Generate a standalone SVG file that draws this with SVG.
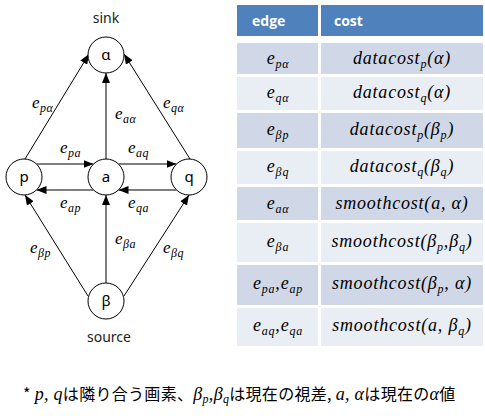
<svg xmlns="http://www.w3.org/2000/svg" width="485" height="416" viewBox="0 0 485 416">
<style>
.nd{fill:#fff;stroke:#000;stroke-width:1}
.nl{font-family:"Noto Sans","DejaVu Sans",sans-serif;font-size:15px;text-anchor:middle;fill:#000}
.cap{font-family:"Noto Sans","DejaVu Sans",sans-serif;font-size:14px;text-anchor:middle;fill:#222}
.m{font-family:"Liberation Serif","DejaVu Serif",serif;font-style:italic;font-size:17px;fill:#000;letter-spacing:0.5px}
.tm{font-family:"Liberation Serif","DejaVu Serif",serif;font-style:italic;font-size:18px;fill:#000;text-anchor:middle;letter-spacing:0.8px}
.s{font-size:12px}
.ed{stroke:#000;stroke-width:1;fill:none;marker-end:url(#ah)}
.hd{fill:#4F81BD}
.dk{fill:#D0D8E8}
.lt{fill:#E9EDF4}
.ht{font-family:"Open Sans","Noto Sans",sans-serif;font-weight:bold;font-size:14px;fill:#fff}
.fn{font-family:"Noto Sans CJK JP",sans-serif;font-size:16px;fill:#000;letter-spacing:0.3px}
.fm{font-family:"Liberation Serif","DejaVu Serif",serif;font-style:italic;font-size:18px}
.fs{font-size:12px}
</style>
<defs>
<marker id="ah" markerUnits="userSpaceOnUse" markerWidth="10" markerHeight="8" refX="10" refY="4" orient="auto">
<path d="M0,0 L10,4 L0,8 z" fill="#000"/>
</marker>
</defs>
<g id="connectors">
<line class="ed" x1="25" y1="159" x2="89" y2="54"/>
<line class="ed" x1="106" y1="159" x2="106" y2="73"/>
<line class="ed" x1="190" y1="159" x2="124" y2="54"/>
<line class="ed" x1="36.5" y1="164" x2="93.5" y2="164"/>
<line class="ed" x1="118.5" y1="164" x2="176.5" y2="164"/>
<line class="ed" x1="176.5" y1="190" x2="118.5" y2="190"/>
<line class="ed" x1="93.5" y1="190" x2="36.5" y2="190"/>
<line class="ed" x1="88" y1="296" x2="25" y2="195"/>
<line class="ed" x1="106" y1="283" x2="106" y2="195"/>
<line class="ed" x1="124" y1="296" x2="189" y2="195"/>
</g>
<g id="edge-labels">
<text class="m" x="32" y="108">e<tspan class="s" dy="4">pα</tspan></text>
<text class="m" x="115" y="119">e<tspan class="s" dy="4">aα</tspan></text>
<text class="m" x="163" y="108">e<tspan class="s" dy="4">qα</tspan></text>
<text class="m" x="60" y="153">e<tspan class="s" dy="4">pa</tspan></text>
<text class="m" x="128" y="153">e<tspan class="s" dy="4">aq</tspan></text>
<text class="m" x="60" y="208">e<tspan class="s" dy="4">ap</tspan></text>
<text class="m" x="128" y="208">e<tspan class="s" dy="4">qa</tspan></text>
<text class="m" x="30" y="253">e<tspan class="s" dy="4">βp</tspan></text>
<text class="m" x="115" y="244">e<tspan class="s" dy="4">βa</tspan></text>
<text class="m" x="163" y="253">e<tspan class="s" dy="4">βq</tspan></text>
</g>
<g id="node-sink">
<text class="cap" x="106" y="23">sink</text>
<circle class="nd" cx="106" cy="55" r="18"/>
<text class="nl" x="106" y="60">α</text>
</g>
<g id="node-p">
<circle class="nd" cx="24" cy="177" r="18"/>
<text class="nl" x="24" y="182">p</text>
</g>
<g id="node-a">
<circle class="nd" cx="106" cy="177" r="18"/>
<text class="nl" x="106" y="182">a</text>
</g>
<g id="node-q">
<circle class="nd" cx="189" cy="177" r="18"/>
<text class="nl" x="189" y="182">q</text>
</g>
<g id="node-source">
<circle class="nd" cx="106" cy="301" r="18"/>
<text class="nl" x="106" y="306">β</text>
<text class="cap" x="109" y="342">source</text>
</g>
<g id="table">
<rect class="hd" x="237" y="5" width="81" height="31"/>
<rect class="hd" x="321" y="5" width="162" height="31"/>
<text class="ht" x="252" y="26">edge</text>
<text class="ht" x="334" y="26">cost</text>

<rect class="dk" x="237" y="43" width="81" height="31"/>
<rect class="dk" x="321" y="43" width="162" height="31"/>
<text class="tm" x="278" y="64">e<tspan class="s" dy="4">pα</tspan></text>
<text class="tm" x="402" y="64">datacost<tspan class="s" dy="4">p</tspan><tspan dy="-4">(α)</tspan></text>

<rect class="lt" x="237" y="77" width="81" height="33"/>
<rect class="lt" x="321" y="77" width="162" height="33"/>
<text class="tm" x="278" y="98">e<tspan class="s" dy="4">qα</tspan></text>
<text class="tm" x="402" y="98">datacost<tspan class="s" dy="4">q</tspan><tspan dy="-4">(α)</tspan></text>

<rect class="dk" x="237" y="113" width="81" height="35"/>
<rect class="dk" x="321" y="113" width="162" height="35"/>
<text class="tm" x="278" y="135">e<tspan class="s" dy="4">βp</tspan></text>
<text class="tm" x="402" y="135">datacost<tspan class="s" dy="4">p</tspan><tspan dy="-4">(β</tspan><tspan class="s" dy="4">p</tspan><tspan dy="-4">)</tspan></text>

<rect class="lt" x="237" y="151" width="81" height="33"/>
<rect class="lt" x="321" y="151" width="162" height="33"/>
<text class="tm" x="278" y="172">e<tspan class="s" dy="4">βq</tspan></text>
<text class="tm" x="402" y="172">datacost<tspan class="s" dy="4">q</tspan><tspan dy="-4">(β</tspan><tspan class="s" dy="4">q</tspan><tspan dy="-4">)</tspan></text>

<rect class="dk" x="237" y="187" width="81" height="33"/>
<rect class="dk" x="321" y="187" width="162" height="33"/>
<text class="tm" x="278" y="209">e<tspan class="s" dy="4">aα</tspan></text>
<text class="tm" x="402" y="209">smoothcost(a, α)</text>

<rect class="lt" x="237" y="223" width="81" height="39"/>
<rect class="lt" x="321" y="223" width="162" height="39"/>
<text class="tm" x="278" y="247">e<tspan class="s" dy="4">βa</tspan></text>
<text class="tm" x="402" y="247">smoothcost(β<tspan class="s" dy="4">p</tspan><tspan dy="-4">,β</tspan><tspan class="s" dy="4">q</tspan><tspan dy="-4">)</tspan></text>

<rect class="dk" x="237" y="265" width="81" height="40"/>
<rect class="dk" x="321" y="265" width="162" height="40"/>
<text class="tm" x="278" y="289">e<tspan class="s" dy="4">pa</tspan><tspan dy="-4">,e</tspan><tspan class="s" dy="4">ap</tspan></text>
<text class="tm" x="402" y="289">smoothcost(β<tspan class="s" dy="4">p</tspan><tspan dy="-4">, α)</tspan></text>

<rect class="lt" x="237" y="308" width="81" height="38"/>
<rect class="lt" x="321" y="308" width="162" height="38"/>
<text class="tm" x="278" y="331">e<tspan class="s" dy="4">aq</tspan><tspan dy="-4">,e</tspan><tspan class="s" dy="4">qa</tspan></text>
<text class="tm" x="402" y="331">smoothcost(a, β<tspan class="s" dy="4">q</tspan><tspan dy="-4">)</tspan></text>
</g>
<g id="footnote">
<text class="fn" x="23" y="400">* <tspan class="fm">p, q</tspan>は隣り合う画素、<tspan class="fm">β</tspan><tspan class="fm fs" dy="3">p</tspan><tspan class="fm" dy="-3">,β</tspan><tspan class="fm fs" dy="3">q</tspan><tspan dy="-3">は現在の視差, </tspan><tspan class="fm">a, α</tspan>は現在の<tspan class="fm">α</tspan>値</text>
</g>
</svg>
